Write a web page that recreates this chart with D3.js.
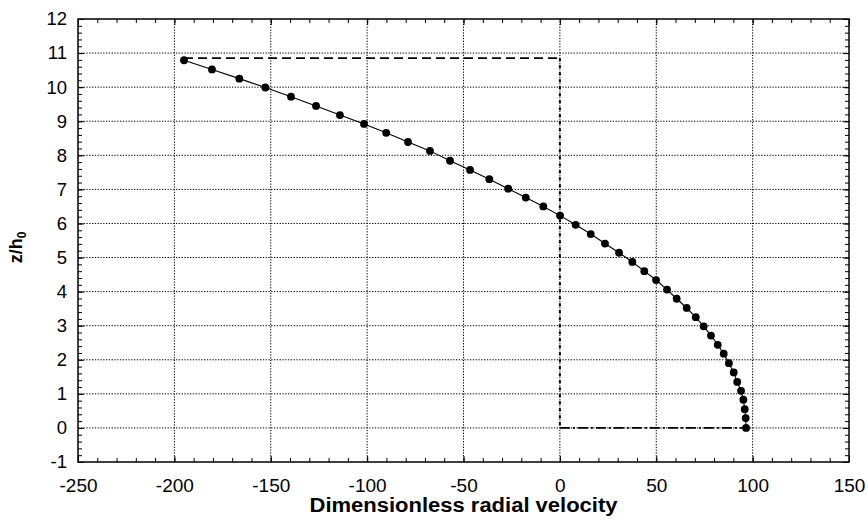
<!DOCTYPE html>
<html><head><meta charset="utf-8">
<script src="https://cdn.jsdelivr.net/npm/d3@7"></script>
<style>
body{margin:0;background:#fff;}
svg{display:block;font-family:"Liberation Sans",Arial,sans-serif;}
</style></head>
<body><svg id="c" width="867" height="524"></svg>
<script>
// Data
const zValues = [0, 0.29, 0.55, 0.83, 1.09, 1.35, 1.63, 1.90, 2.18, 2.44, 2.71, 2.98, 3.25, 3.52, 3.79, 4.06, 4.34, 4.60, 4.87, 5.14, 5.41, 5.69, 5.96, 6.23, 6.50, 6.76, 7.02, 7.30, 7.57, 7.84, 8.13, 8.39, 8.66, 8.92, 9.18, 9.45, 9.72, 9.99, 10.25, 10.52, 10.79];
const velocity = [96.6, 96.4, 95.9, 95.2, 94.0, 92.0, 90.2, 87.7, 85.0, 81.9, 78.4, 74.6, 70.5, 65.8, 60.6, 55.6, 49.9, 43.8, 37.6, 30.7, 23.4, 16.0, 8.2, 0.1, -8.6, -17.7, -26.8, -36.6, -46.6, -57.0, -67.4, -78.8, -90.1, -101.6, -114.1, -126.5, -139.5, -152.8, -166.3, -180.5, -195.0];
const boundX = [-195, 0, 0, 97];
const boundZ = [10.85, 10.85, 0, 0];
const xTicks = [-250, -200, -150, -100, -50, 0, 50, 100, 150];
const yTicks = [-1, 0, 1, 2, 3, 4, 5, 6, 7, 8, 9, 10, 11, 12];
const xLabel = "Dimensionless radial velocity";

const svg = d3.select("#c");
const m = {l:78, r:18, t:19, b:62};
const W = 867, H = 524;
const x = d3.scaleLinear().domain([-250,150]).range([m.l, W-m.r]);
const y = d3.scaleLinear().domain([-1,12]).range([H-m.b, m.t]);
const fmt = d => String(d);

// grid
const grid = svg.append("g").attr("stroke","#000").attr("stroke-width",1).attr("stroke-dasharray","1.3,1.5");
grid.selectAll("line.gx").data(xTicks.slice(1,-1)).join("line")
  .attr("x1",d=>x(d)).attr("x2",d=>x(d)).attr("y1",y(-1)).attr("y2",y(12));
grid.selectAll("line.gy").data(yTicks.slice(1,-1)).join("line")
  .attr("y1",d=>y(d)).attr("y2",d=>y(d)).attr("x1",x(-250)).attr("x2",x(150));

// minor tick values
const xMinor = d3.range(-250, 151, 10);
const yMinor = d3.range(-1, 12.001, 0.2).map(v=>+v.toFixed(1));

function styleAxis(g){
  g.select(".domain").remove();
  g.selectAll(".tick line").attr("stroke","#000").attr("stroke-width",1);
}
// bottom
svg.append("g").attr("transform",`translate(0,${y(-1)})`)
  .call(d3.axisBottom(x).tickValues(xMinor).tickSize(-4).tickFormat(""))
  .call(styleAxis);
svg.append("g").attr("transform",`translate(0,${y(-1)})`)
  .call(d3.axisBottom(x).tickValues(xTicks).tickSize(-6).tickFormat(fmt))
  .call(styleAxis)
  .call(g=>g.selectAll("text").attr("font-size","19px").attr("fill","#000").attr("dy","0.95em").attr("y",12));
// top
svg.append("g").attr("transform",`translate(0,${y(12)})`)
  .call(d3.axisTop(x).tickValues(xMinor).tickSize(-4).tickFormat("")).call(styleAxis);
svg.append("g").attr("transform",`translate(0,${y(12)})`)
  .call(d3.axisTop(x).tickValues(xTicks).tickSize(-6).tickFormat("")).call(styleAxis);
// left
svg.append("g").attr("transform",`translate(${x(-250)},0)`)
  .call(d3.axisLeft(y).tickValues(yMinor).tickSize(-4).tickFormat("")).call(styleAxis);
svg.append("g").attr("transform",`translate(${x(-250)},0)`)
  .call(d3.axisLeft(y).tickValues(yTicks).tickSize(-6).tickFormat(fmt))
  .call(styleAxis)
  .call(g=>g.selectAll("text").attr("font-size","18.5px").attr("fill","#000").attr("x",-11));
// right
svg.append("g").attr("transform",`translate(${x(150)},0)`)
  .call(d3.axisRight(y).tickValues(yMinor).tickSize(-4).tickFormat("")).call(styleAxis);
svg.append("g").attr("transform",`translate(${x(150)},0)`)
  .call(d3.axisRight(y).tickValues(yTicks).tickSize(-6).tickFormat("")).call(styleAxis);

// frame
svg.append("rect").attr("x",x(-250)).attr("y",y(12)).attr("width",x(150)-x(-250)).attr("height",y(-1)-y(12))
  .attr("fill","none").attr("stroke","#000").attr("stroke-width",1.5);

// boundary dashed lines
const segStyles = ["9,5","3,4","10,3,2,3"];
const segWidths = [1.7, 2, 1.7];
for(let i=0;i<boundX.length-1;i++){
  svg.append("line")
    .attr("x1",x(boundX[i])).attr("y1",y(boundZ[i]))
    .attr("x2",x(boundX[i+1])).attr("y2",y(boundZ[i+1]))
    .attr("stroke","#000").attr("stroke-width",segWidths[i]).attr("stroke-dasharray",segStyles[i]);
}

// profile line + markers
const pts = velocity.map((v,i)=>[v,zValues[i]]);
svg.append("path").datum(pts)
  .attr("d",d3.line().x(d=>x(d[0])).y(d=>y(d[1])))
  .attr("fill","none").attr("stroke","#000").attr("stroke-width",1.1);
svg.append("g").selectAll("circle").data(pts).join("circle")
  .attr("cx",d=>x(d[0])).attr("cy",d=>y(d[1])).attr("r",3.9).attr("fill","#000");

// axis titles
svg.append("text").attr("x",(x(-250)+x(150))/2).attr("y",512)
  .attr("text-anchor","middle").attr("font-weight","bold").attr("font-size","20px")
  .attr("textLength",308).attr("lengthAdjust","spacingAndGlyphs")
  .text(xLabel);
const yl = svg.append("text").attr("transform",`translate(22,${y(5.3)}) rotate(-90)`)
  .attr("text-anchor","middle").attr("font-weight","bold").attr("font-size","18px");
yl.append("tspan").text("z/h");
yl.append("tspan").attr("font-size","12px").attr("dy","4").text("0");
</script>
</body></html>
